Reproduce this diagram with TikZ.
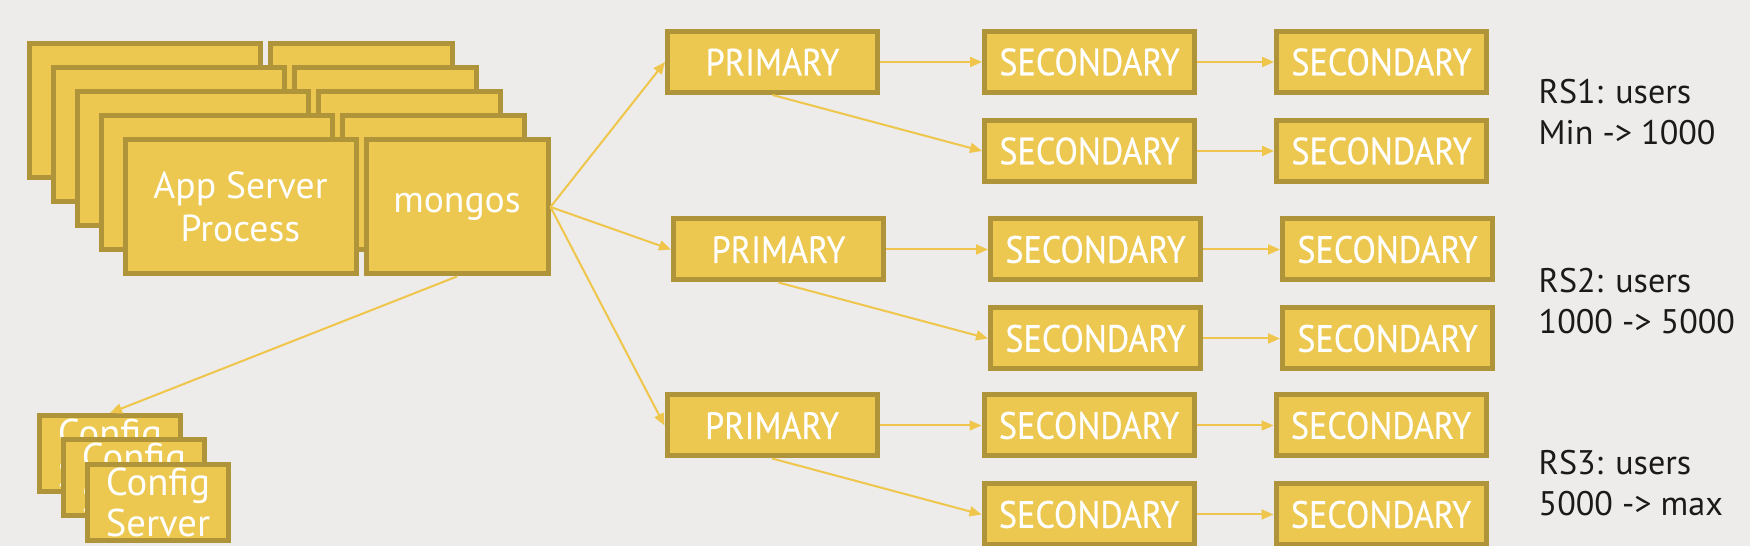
\documentclass[tikz,border=0pt]{standalone}
\usepackage{fontspec}
\setmainfont{PT Sans}
\newfontfamily\narrowfont{PT Sans}[FakeStretch=0.9, FakeBold=0.4]
\usetikzlibrary{arrows.meta, positioning}

\definecolor{bg}{HTML}{EDECEA}
\definecolor{gold}{HTML}{ECC850}
\definecolor{goldedge}{HTML}{B0943A}
\definecolor{goldline}{HTML}{EFC64B}
\definecolor{labeltext}{HTML}{1A1A1A}

\begin{document}
\begin{tikzpicture}[
            member/.style={draw=goldedge, fill=gold, line width=0.05cm, minimum width=2.10cm, minimum height=0.61cm, inner sep=0pt, text=white, font=\narrowfont\fontsize{10.8}{13}\selectfont},
            half/.style={draw=goldedge, fill=gold, line width=0.05cm, minimum height=1.34cm, inner sep=0pt, text=white, align=center, font=\fontsize{10.7}{12.3}\selectfont},
            proc/.style={half, minimum width=2.31cm, anchor=north west},
            router/.style={half, minimum width=1.82cm},
            config/.style={draw=goldedge, fill=gold, line width=0.05cm, minimum width=1.41cm, minimum height=0.76cm, inner sep=0pt, text=white, align=center, font=\fontsize{11}{11.9}\selectfont},
            link/.style={-{Triangle[length=0.12cm, width=0.1cm]}, goldline, line width=0.02cm},
            rs label/.style={text=labeltext, align=left, anchor=base west, inner sep=0pt, font=\fontsize{9.7}{11.8}\selectfont}]

            % Canvas
            \fill[bg] (0,0) rectangle (17.5,5.46);
            \useasboundingbox (0,0) rectangle (17.5,5.46);

            % App servers with their mongos, stacked
            \node[proc] (app1) at (0.265,5.045) {};
            \node[router, right=0.05cm of app1] (mg1) {};
            \node[proc] (app2) at (0.505,4.805) {};
            \node[router, right=0.05cm of app2] (mg2) {};
            \node[proc] (app3) at (0.745,4.565) {};
            \node[router, right=0.05cm of app3] (mg3) {};
            \node[proc] (app4) at (0.985,4.325) {};
            \node[router, right=0.05cm of app4] (mg4) {};
            \node[proc] (app5) at (1.225,4.085) {App Server\\Process};
            \node[router, right=0.05cm of app5] (mg5) {mongos};

            % Config servers
            \node[config] (cfg1) at (1.10,0.925) {Config\\Server};
            \node[config] (cfg2) at (1.34,0.680) {Config\\Server};
            \node[config] (cfg3) at (1.58,0.435) {Config\\Server};

            % Replica set 1
            \node[member] (p1) at (7.725,4.84) {PRIMARY};
            \node[member, right=1.02cm of p1] (s11) {SECONDARY};
            \node[member, right=0.77cm of s11] (s12) {SECONDARY};
            \node[member, below=0.23cm of s11] (s13) {SECONDARY};
            \node[member, right=0.77cm of s13] (s14) {SECONDARY};

            % Replica set 2
            \node[member] (p2) at (7.785,2.965) {PRIMARY};
            \node[member, right=1.02cm of p2] (s21) {SECONDARY};
            \node[member, right=0.77cm of s21] (s22) {SECONDARY};
            \node[member, below=0.23cm of s21] (s23) {SECONDARY};
            \node[member, right=0.77cm of s23] (s24) {SECONDARY};

            % Replica set 3
            \node[member] (p3) at (7.72,1.205) {PRIMARY};
            \node[member, right=1.02cm of p3] (s31) {SECONDARY};
            \node[member, right=0.77cm of s31] (s32) {SECONDARY};
            \node[member, below=0.23cm of s31] (s33) {SECONDARY};
            \node[member, right=0.77cm of s33] (s34) {SECONDARY};

            % Shard ranges
            \node[rs label] (rs1) at (15.38,4.01) {RS1: users\\Min -> 1000};
            \node[rs label] (rs2) at (15.38,2.12) {RS2: users\\1000 -> 5000};
            \node[rs label] (rs3) at (15.38,0.30) {RS3: users\\5000 -> max};

            % mongos routes
            \draw[link] (mg5.east) -- (p1.west);
            \draw[link] (mg5.east) -- (p2.west);
            \draw[link] (mg5.east) -- (p3.west);
            \draw[link] (mg5.south) -- (cfg1.north);

            % Replication
            \draw[link] (p1.east) -- (s11.west);
            \draw[link] (p1.south) -- (s13.west);
            \draw[link] (s11.east) -- (s12.west);
            \draw[link] (s13.east) -- (s14.west);
            \draw[link] (p2.east) -- (s21.west);
            \draw[link] (p2.south) -- (s23.west);
            \draw[link] (s21.east) -- (s22.west);
            \draw[link] (s23.east) -- (s24.west);
            \draw[link] (p3.east) -- (s31.west);
            \draw[link] (p3.south) -- (s33.west);
            \draw[link] (s31.east) -- (s32.west);
            \draw[link] (s33.east) -- (s34.west);
        \end{tikzpicture}
\end{document}
